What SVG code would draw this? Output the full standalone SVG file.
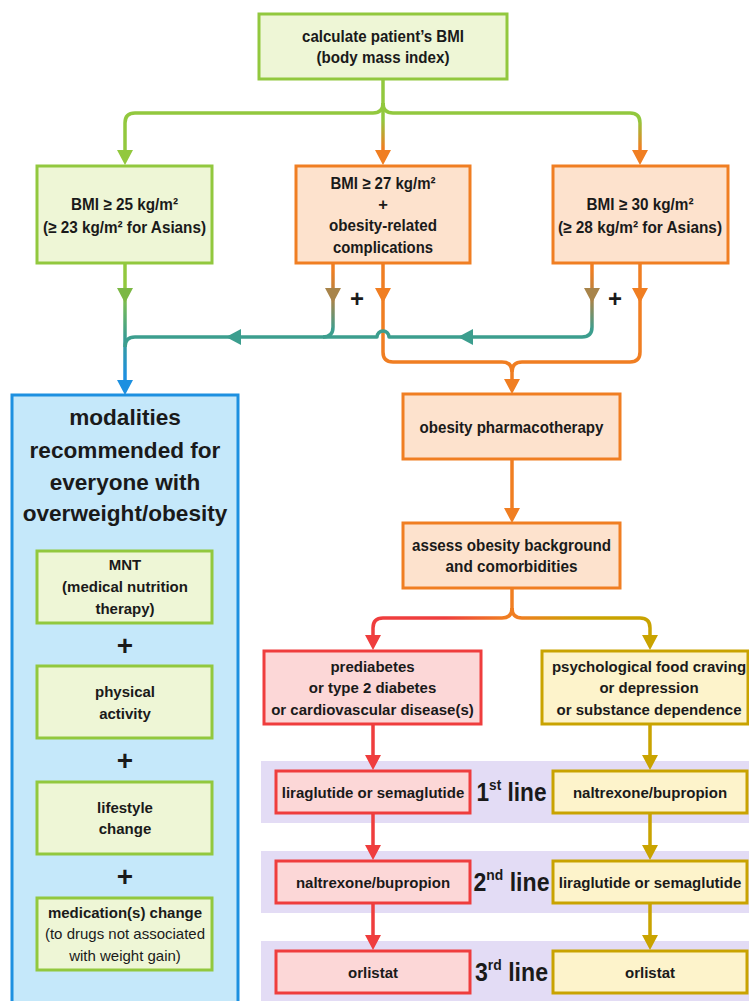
<svg xmlns="http://www.w3.org/2000/svg" width="749" height="1001" viewBox="0 0 749 1001">
<defs>
<style>
.t{font-family:"Liberation Sans",Arial,sans-serif;font-size:15px;font-weight:bold;fill:#1a1a1a;text-anchor:middle;dominant-baseline:central}
.w{font-size:16.5px}
.n{font-weight:normal}
.big{font-size:22.6px}
.lbl{font-size:25px}
.plus{font-size:28px}
.plus2{font-size:24px}
.bg{fill:#eef6d6;stroke:#92c83e;stroke-width:3}
.bo{fill:#fde2cd;stroke:#f07e22;stroke-width:3}
.br{fill:#fcd7d7;stroke:#ef3d3d;stroke-width:3}
.by{fill:#fdf3cb;stroke:#c9a300;stroke-width:3}
.bb{fill:#c5e8fa;stroke:#1d90e0;stroke-width:3}
.band{fill:#e3dcf5}
.c{fill:none;stroke-width:3.5;stroke-linejoin:round}
.cg{stroke:#92c83e}
.co{stroke:#f07e22}
.ct{stroke:#3c9e8e}
.cr{stroke:#ef3d3d}
.cy{stroke:#c9a300}
</style>
<linearGradient id="gGO" gradientUnits="userSpaceOnUse" x1="0" y1="120" x2="0" y2="148"><stop offset="0" stop-color="#92c83e"/><stop offset="1" stop-color="#f07e22"/></linearGradient>
<linearGradient id="gL" gradientUnits="userSpaceOnUse" x1="0" y1="263" x2="0" y2="395"><stop offset="0.2" stop-color="#92c83e"/><stop offset="0.55" stop-color="#3c9e8e"/><stop offset="0.85" stop-color="#1d90e0"/></linearGradient>
<linearGradient id="gB" gradientUnits="userSpaceOnUse" x1="0" y1="263" x2="0" y2="337"><stop offset="0.1" stop-color="#f07e22"/><stop offset="0.5" stop-color="#a8844a"/><stop offset="0.9" stop-color="#3c9e8e"/></linearGradient>
<linearGradient id="gR" gradientUnits="userSpaceOnUse" x1="505" y1="0" x2="445" y2="0"><stop offset="0" stop-color="#f07e22"/><stop offset="1" stop-color="#ef3d3d"/></linearGradient>
<linearGradient id="gY" gradientUnits="userSpaceOnUse" x1="519" y1="0" x2="580" y2="0"><stop offset="0" stop-color="#f07e22"/><stop offset="1" stop-color="#c9a300"/></linearGradient>
<path id="ad" d="M-8,-15 L8,-15 L0,0 Z"/>
<path id="al" d="M0,0 L15,-8 L15,8 Z"/>
</defs>
<rect width="749" height="1001" fill="#ffffff"/>

<g id="bands">
<rect class="band" x="261" y="761" width="490" height="62"/>
<rect class="band" x="261" y="851" width="490" height="62"/>
<rect class="band" x="261" y="941" width="490" height="62"/>
</g>

<g id="connectors">
<path class="c cg" d="M383,79 V105"/>
<path class="c cg" d="M383,103 Q383,113 373,113 H135 Q125,113 125,123 V152"/>
<path class="c" stroke="url(#gGO)" d="M383,103 Q383,113 393,113 H630 Q640,113 640,123 V152"/>
<path class="c" stroke="url(#gGO)" d="M383,103 V152"/>
<use href="#ad" x="125" y="165" fill="#92c83e"/>
<use href="#ad" x="383" y="165" fill="#f07e22"/>
<use href="#ad" x="640" y="165" fill="#f07e22"/>

<path class="c" stroke="url(#gL)" d="M125,263 V383"/>
<path class="c co" d="M383,263 V352 Q383,362 393,362 H502 Q512,362 512,372 V382"/>
<path class="c co" d="M640,263 V352 Q640,362 630,362 H522 Q512,362 512,372"/>
<path class="c" stroke="url(#gB)" d="M333,263 V327 Q333,337 323,337"/>
<path class="c" stroke="url(#gB)" d="M592,263 V327 Q592,337 582,337 H389 A6,6 0 0 0 377,337 H135 Q125,337 125,347"/>
<use href="#ad" x="125" y="303" fill="#7cb845"/>
<use href="#ad" x="333" y="303" fill="#a8844a"/>
<use href="#ad" x="383" y="303" fill="#f07e22"/>
<use href="#ad" x="592" y="303" fill="#a8844a"/>
<use href="#ad" x="640" y="303" fill="#f07e22"/>
<use href="#al" x="226" y="337" fill="#3c9e8e"/>
<use href="#al" x="458" y="337" fill="#3c9e8e"/>
<use href="#ad" x="125" y="395" fill="#1d90e0"/>
<use href="#ad" x="512" y="394" fill="#f07e22"/>

<path class="c co" d="M512,459 V510"/>
<use href="#ad" x="512" y="523" fill="#f07e22"/>

<path class="c co" d="M512,588 V610"/>
<path class="c" stroke="url(#gR)" d="M512,608 Q512,618 502,618 H383 Q373,618 373,628 V637"/>
<path class="c" stroke="url(#gY)" d="M512,608 Q512,618 522,618 H640 Q650,618 650,628 V637"/>
<use href="#ad" x="373" y="650" fill="#ef3d3d"/>
<use href="#ad" x="650" y="650" fill="#c9a300"/>

<path class="c cr" d="M373,724 V757 M373,813 V847 M373,903 V937"/>
<use href="#ad" x="373" y="770" fill="#ef3d3d"/>
<use href="#ad" x="373" y="860" fill="#ef3d3d"/>
<use href="#ad" x="373" y="950" fill="#ef3d3d"/>
<path class="c cy" d="M650,724 V757 M650,813 V847 M650,903 V937"/>
<use href="#ad" x="650" y="770" fill="#c9a300"/>
<use href="#ad" x="650" y="860" fill="#c9a300"/>
<use href="#ad" x="650" y="950" fill="#c9a300"/>
<text class="t plus2" x="357" y="298">+</text>
<text class="t plus2" x="615" y="298">+</text>
</g>

<g id="n-bmi">
<rect class="bg" x="259" y="14" width="248" height="65"/>
<text class="t w" x="383" y="36" textLength="162" lengthAdjust="spacingAndGlyphs">calculate patient’s BMI</text>
<text class="t w" x="383" y="57" textLength="133" lengthAdjust="spacingAndGlyphs">(body mass index)</text>
</g>

<g id="n-bmi25">
<rect class="bg" x="37" y="166" width="175" height="97"/>
<text class="t w" x="124.5" y="204" textLength="107" lengthAdjust="spacingAndGlyphs">BMI ≥ 25 kg/m²</text>
<text class="t w" x="124.5" y="227" textLength="163" lengthAdjust="spacingAndGlyphs">(≥ 23 kg/m² for Asians)</text>
</g>

<g id="n-bmi27">
<rect class="bo" x="296" y="166" width="174" height="97"/>
<text class="t w" x="383" y="183" textLength="105" lengthAdjust="spacingAndGlyphs">BMI ≥ 27 kg/m²</text>
<text class="t w" x="383" y="204">+</text>
<text class="t w" x="383" y="225" textLength="108" lengthAdjust="spacingAndGlyphs">obesity-related</text>
<text class="t w" x="383" y="246.5" textLength="100" lengthAdjust="spacingAndGlyphs">complications</text>
</g>

<g id="n-bmi30">
<rect class="bo" x="553" y="166" width="175" height="97"/>
<text class="t w" x="640" y="204" textLength="107" lengthAdjust="spacingAndGlyphs">BMI ≥ 30 kg/m²</text>
<text class="t w" x="640" y="227" textLength="164" lengthAdjust="spacingAndGlyphs">(≥ 28 kg/m² for Asians)</text>
</g>

<g id="n-modalities">
<rect class="bb" x="12" y="395" width="226" height="620"/>
<text class="t big" x="125" y="417">modalities</text>
<text class="t big" x="125" y="450">recommended for</text>
<text class="t big" x="125" y="482">everyone with</text>
<text class="t big" x="125" y="513">overweight/obesity</text>
<rect class="bg" x="37" y="551" width="175" height="72"/>
<text class="t" x="125" y="564.5">MNT</text>
<text class="t" x="125" y="586.5">(medical nutrition</text>
<text class="t" x="125" y="608.5">therapy)</text>
<text class="t plus" x="125" y="645">+</text>
<rect class="bg" x="37" y="666" width="175" height="72"/>
<text class="t" x="125" y="691.5">physical</text>
<text class="t" x="125" y="713">activity</text>
<text class="t plus" x="125" y="760">+</text>
<rect class="bg" x="37" y="782" width="175" height="72"/>
<text class="t" x="125" y="807">lifestyle</text>
<text class="t" x="125" y="828.5">change</text>
<text class="t plus" x="125" y="876">+</text>
<rect class="bg" x="37" y="898" width="175" height="72"/>
<text class="t" x="125" y="912.5">medication(s) change</text>
<text class="t n" x="125" y="933.5">(to drugs not associated</text>
<text class="t n" x="125" y="955">with weight gain)</text>
</g>

<g id="n-pharma">
<rect class="bo" x="403" y="394" width="217" height="65"/>
<text class="t w" x="511.5" y="427" textLength="184" lengthAdjust="spacingAndGlyphs">obesity pharmacotherapy</text>
</g>

<g id="n-assess">
<rect class="bo" x="403" y="523" width="217" height="65"/>
<text class="t w" x="511.5" y="545" textLength="199" lengthAdjust="spacingAndGlyphs">assess obesity background</text>
<text class="t w" x="511.5" y="566" textLength="132" lengthAdjust="spacingAndGlyphs">and comorbidities</text>
</g>

<g id="n-prediabetes">
<rect class="br" x="264" y="651" width="217" height="73"/>
<text class="t" x="372.5" y="666">prediabetes</text>
<text class="t" x="372.5" y="687.5">or type 2 diabetes</text>
<text class="t" x="372.5" y="709">or cardiovascular disease(s)</text>
</g>

<g id="n-psych">
<rect class="by" x="542" y="651" width="206" height="73"/>
<text class="t" x="649" y="666">psychological food craving</text>
<text class="t" x="649" y="687.5">or depression</text>
<text class="t" x="649" y="709">or substance dependence</text>
</g>

<g id="n-red1">
<rect class="br" x="276" y="771" width="194" height="42"/>
<text class="t" x="373" y="792">liraglutide or semaglutide</text>
</g>
<g id="n-red2">
<rect class="br" x="276" y="861" width="194" height="42"/>
<text class="t" x="373" y="882">naltrexone/bupropion</text>
</g>
<g id="n-red3">
<rect class="br" x="276" y="951" width="194" height="42"/>
<text class="t" x="373" y="972">orlistat</text>
</g>
<g id="n-gold1">
<rect class="by" x="553" y="771" width="194" height="42"/>
<text class="t" x="650" y="792">naltrexone/bupropion</text>
</g>
<g id="n-gold2">
<rect class="by" x="553" y="861" width="194" height="42"/>
<text class="t" x="650" y="882">liraglutide or semaglutide</text>
</g>
<g id="n-gold3">
<rect class="by" x="553" y="951" width="194" height="42"/>
<text class="t" x="650" y="972">orlistat</text>
</g>

<g id="line-labels">
<text class="t lbl" x="511.5" y="792" textLength="70" lengthAdjust="spacingAndGlyphs">1<tspan font-size="15" dy="-8">st</tspan><tspan dy="8"> line</tspan></text>
<text class="t lbl" x="511.5" y="882" textLength="76" lengthAdjust="spacingAndGlyphs">2<tspan font-size="15" dy="-8">nd</tspan><tspan dy="8"> line</tspan></text>
<text class="t lbl" x="511.5" y="972" textLength="73" lengthAdjust="spacingAndGlyphs">3<tspan font-size="15" dy="-8">rd</tspan><tspan dy="8"> line</tspan></text>
</g>
</svg>
